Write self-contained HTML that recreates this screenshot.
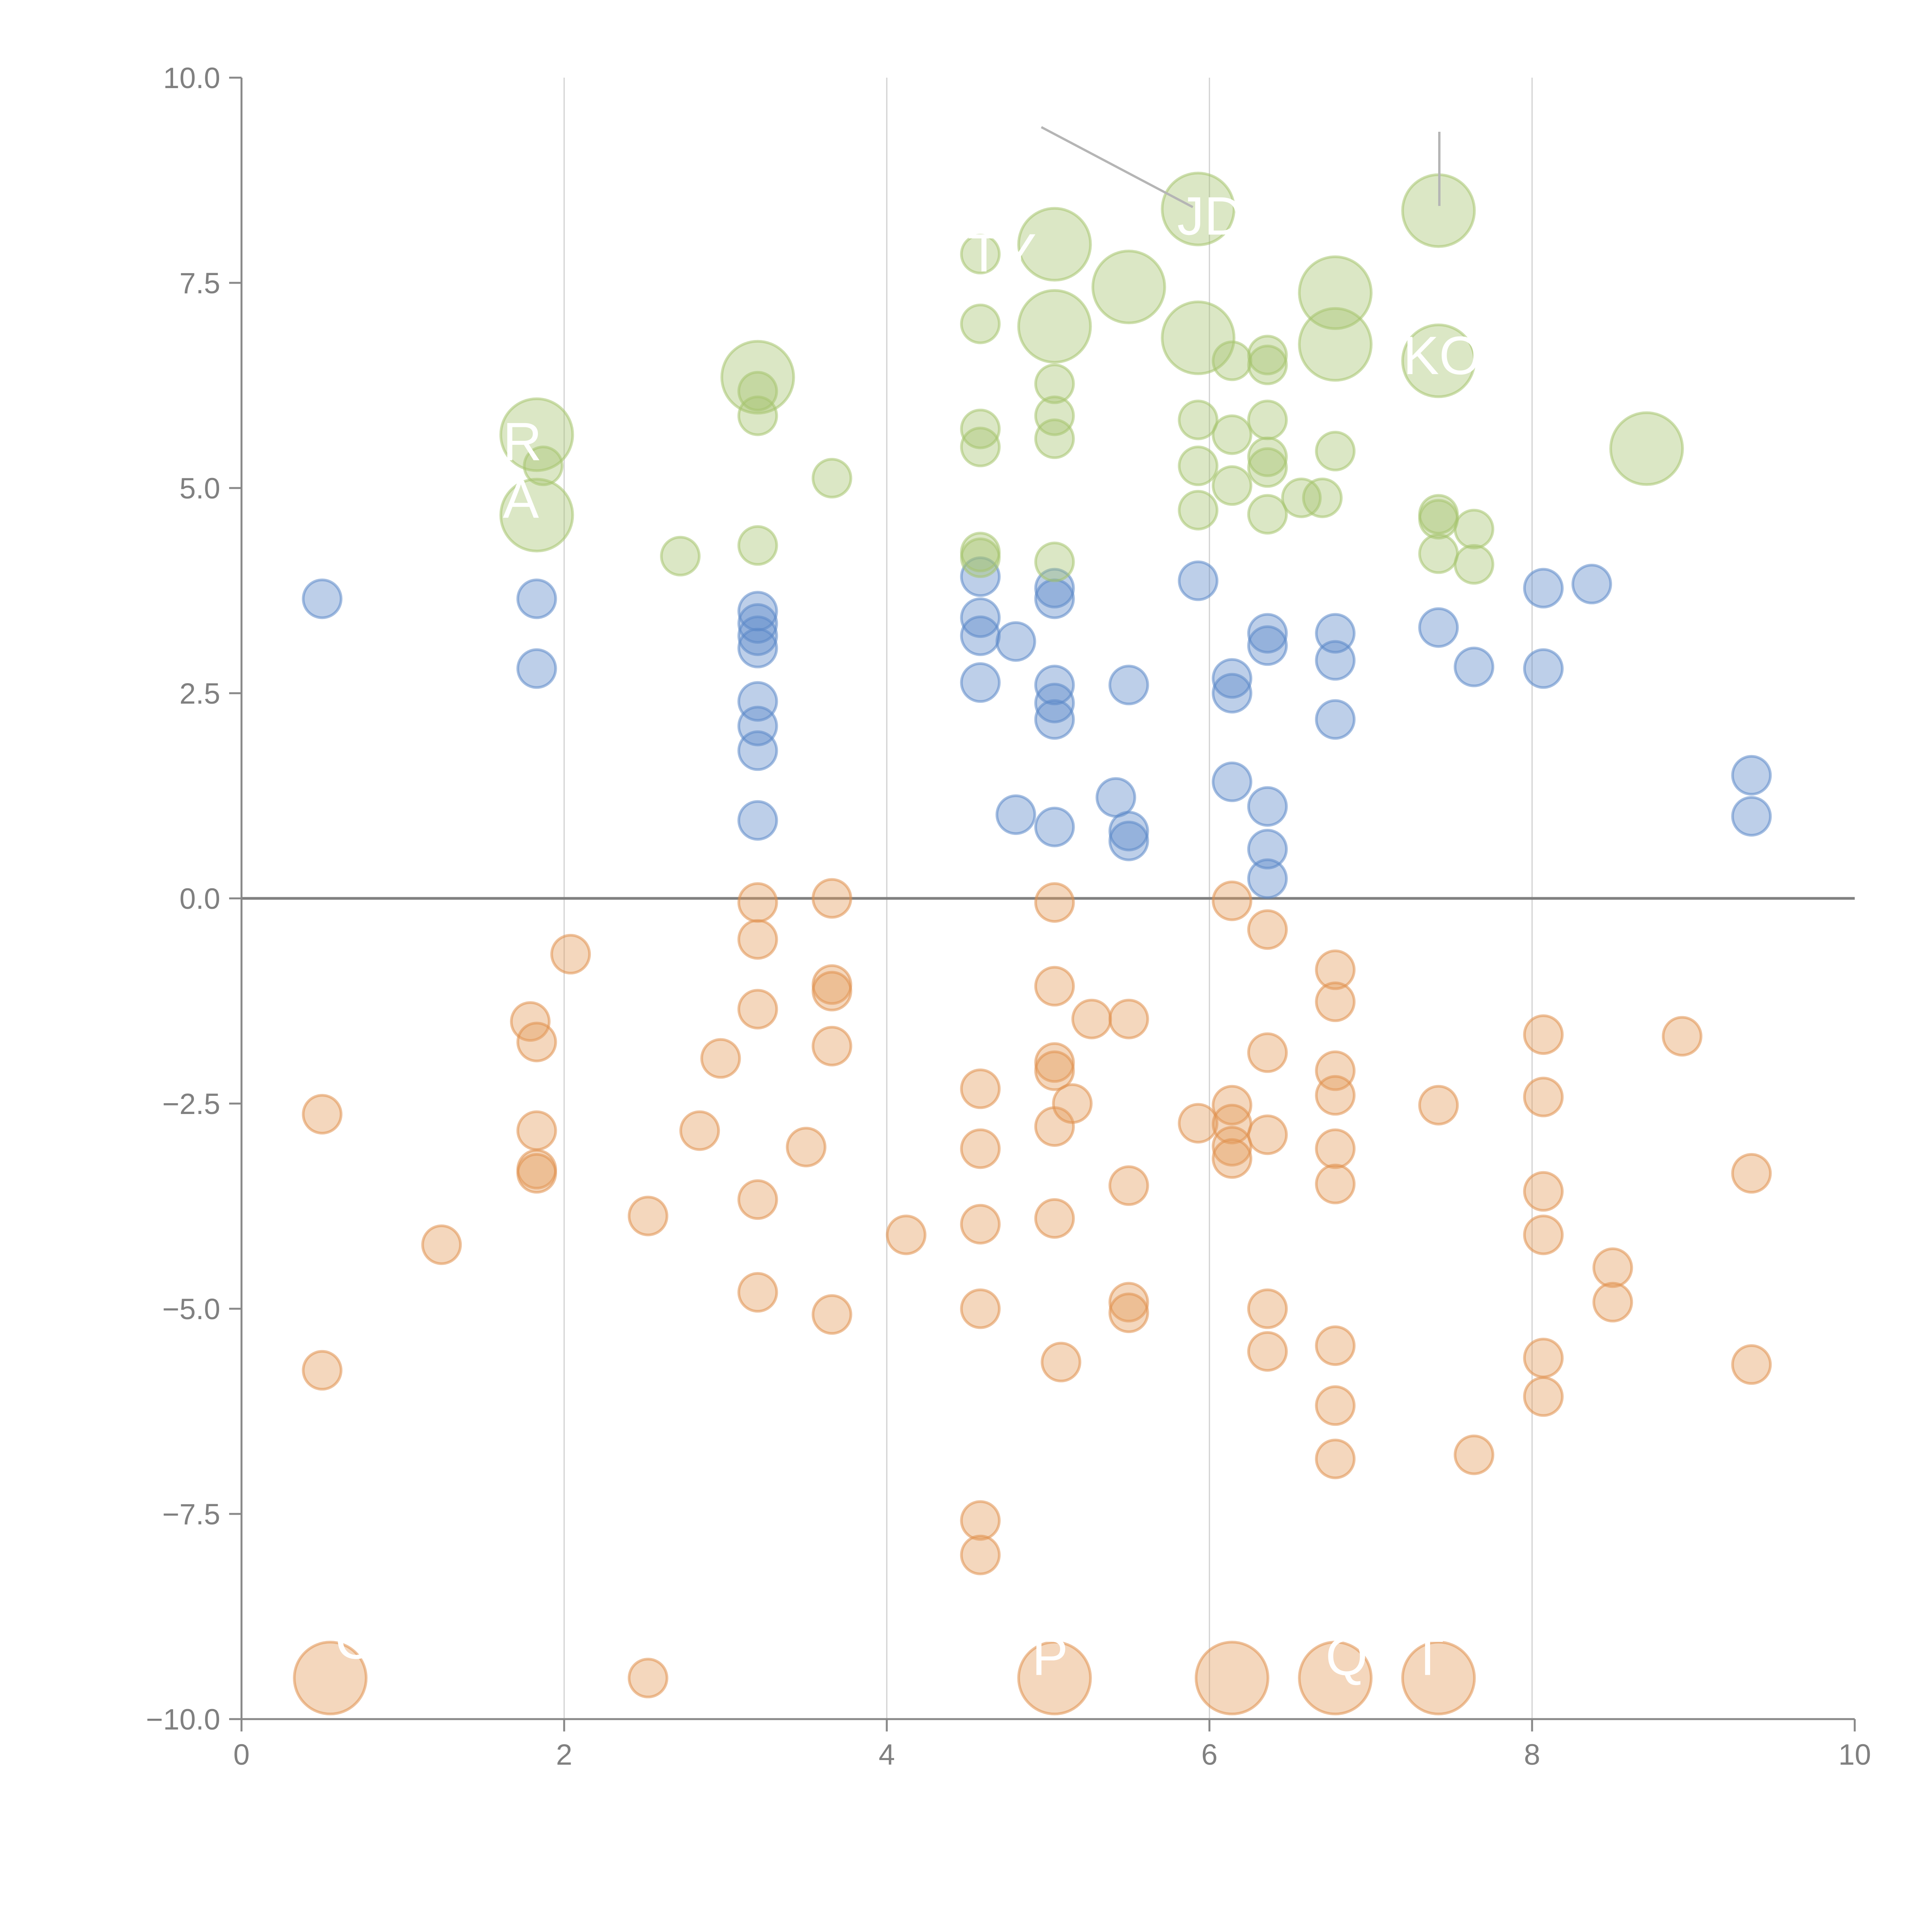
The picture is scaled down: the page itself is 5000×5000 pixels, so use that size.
<!DOCTYPE html>
<html><head><meta charset="utf-8"><style>
html,body{margin:0;padding:0;background:#fff;}
svg{display:block;}
text{font-family:"Liberation Sans",sans-serif;}
</style></head><body>
<svg id="chart" width="5000" height="5000" viewBox="0 0 5000 5000" xmlns="http://www.w3.org/2000/svg">
<g id="grid"></g>
<g id="axes"></g>
<g id="marks"></g>
<g id="labels"></g>
</svg>
<script>
const xTicks=[0,2,4,6,8,10];
const xTickLabels=["0","2","4","6","8","10"];
const yTicks=[-10,-7.5,-5,-2.5,0,2.5,5,7.5,10];
const yTickLabels=["\u221210.0","\u22127.5","\u22125.0","\u22122.5","0.0","2.5","5.0","7.5","10.0"];
const blueX=[0.5,1.83,1.83,3.2,3.2,3.2,3.2,3.2,3.2,3.2,3.2,4.58,4.58,4.58,4.58,4.8,4.8,5.04,5.04,5.04,5.04,5.04,5.04,5.5,5.42,5.5,5.5,5.93,6.14,6.14,6.14,6.36,6.36,6.36,6.36,6.36,6.78,6.78,6.78,7.42,7.64,8.07,8.07,8.37,9.36,9.36];
const blueY=[3.65,3.65,2.8,3.5,3.35,3.2,3.05,2.4,2.1,1.8,0.95,3.92,3.42,3.2,2.63,3.13,1.02,3.78,3.65,2.6,2.38,2.18,0.87,2.6,1.23,0.82,0.7,3.87,2.68,2.5,1.42,3.23,3.08,1.12,0.6,0.24,3.23,2.9,2.18,3.3,2.82,3.78,2.8,3.83,1.5,1.0];
const orangeX=[0.5,0.5,1.24,1.79,1.83,1.83,1.83,1.83,2.04,2.52,2.52,2.84,2.97,3.2,3.2,3.2,3.2,3.2,3.5,3.66,3.66,3.66,3.66,3.66,4.12,4.58,4.58,4.58,4.58,4.58,4.58,5.04,5.04,5.04,5.04,5.04,5.04,5.15,5.27,5.08,5.5,5.5,5.5,5.5,5.93,6.14,6.14,6.14,6.14,6.14,6.36,6.36,6.36,6.36,6.36,6.78,6.78,6.78,6.78,6.78,6.78,6.78,6.78,6.78,7.42,7.64,8.07,8.07,8.07,8.07,8.07,8.07,8.5,8.5,8.93,9.36,9.36];
const orangeY=[-2.63,-5.75,-4.22,-1.5,-1.75,-2.83,-3.3,-3.35,-0.68,-3.87,-9.5,-2.83,-1.95,-0.05,-0.5,-1.35,-3.67,-4.8,-3.03,0,-1.05,-1.13,-1.8,-5.07,-4.1,-2.32,-3.05,-3.97,-5.0,-7.58,-8.0,-0.05,-1.07,-2.0,-2.1,-2.78,-3.9,-2.5,-1.47,-5.65,-1.47,-3.5,-4.92,-5.05,-2.74,-0.03,-2.52,-2.75,-3.02,-3.17,-0.38,-1.88,-2.88,-5.0,-5.52,-0.87,-1.26,-2.1,-2.4,-3.05,-3.48,-5.45,-6.18,-6.83,-2.52,-6.78,-1.66,-2.42,-3.57,-4.1,-5.6,-6.07,-4.5,-4.92,-1.68,-3.35,-5.68];
const orangeBigX=[0.55,5.04,6.14,6.78,7.42];
const orangeBigY=[-9.5,-9.5,-9.5,-9.5,-9.5];
const greenX=[1.87,2.72,3.2,3.2,3.2,3.66,4.58,4.58,4.58,4.58,4.58,4.58,5.04,5.04,5.04,5.04,5.93,5.93,5.93,6.14,6.14,6.14,6.36,6.36,6.36,6.36,6.36,6.36,6.57,6.7,6.78,7.42,7.42,7.42,7.64,7.64];
const greenY=[5.27,4.17,6.18,5.88,4.3,5.12,7.85,7.0,5.72,5.5,4.22,4.15,6.27,5.88,5.6,4.1,5.83,5.27,4.73,6.55,5.65,5.03,6.62,6.5,5.83,5.38,5.25,4.68,4.88,4.88,5.45,4.68,4.62,4.2,4.5,4.07];
const greenBigX=[1.83,1.83,3.2,5.04,5.04,5.5,5.93,5.93,6.78,6.78,7.42,7.42,8.71];
const greenBigY=[5.65,4.67,6.35,7.97,6.97,7.45,8.4,6.83,7.38,6.75,8.38,6.55,5.48];

const NS="http://www.w3.org/2000/svg";
const X0=625,X1=4800,YT=201,YB=4449;
const sx=v=>X0+(v-0)/(10-0)*(X1-X0);
const sy=v=>YB-(v-(-10))/(20)*(YB-YT);
function mk(tag,attrs,parent){const e=document.createElementNS(NS,tag);for(const k in attrs)e.setAttribute(k,attrs[k]);parent.appendChild(e);return e;}
const grid=document.getElementById('grid'),axes=document.getElementById('axes'),marks=document.getElementById('marks'),labels=document.getElementById('labels');

[2,4,6,8].forEach(v=>{
  const l=mk('line',{x1:sx(v),x2:sx(v),y1:YT,y2:YB,stroke:'#d0d0d0','stroke-width':3},grid);
  
  
});
const zl=mk('line',{x1:X0,x2:X1,y1:sy(0),y2:sy(0),stroke:'#808080','stroke-width':7},grid);



const ya=mk('line',{x1:X0,x2:X0,y1:YT,y2:YB,stroke:'#888','stroke-width':5},axes);


const xa=mk('line',{x1:X0-3,x2:X1,y1:YB,y2:YB,stroke:'#888','stroke-width':5},axes);



yTicks.forEach((v,i)=>{
  const t=mk('line',{x1:X0-32,x2:X0,y1:sy(v),y2:sy(v),stroke:'#888','stroke-width':5},axes);
  
  
  const tx=mk('text',{x:X0-55,y:sy(v)+27,'text-anchor':'end','font-size':76,fill:'#808080'},axes);
  tx.textContent=yTickLabels[i];
  
  
});
xTicks.forEach((v,i)=>{
  const t=mk('line',{x1:sx(v),x2:sx(v),y1:YB,y2:YB+32,stroke:'#888','stroke-width':5},axes);
  
  
  const tx=mk('text',{x:sx(v),y:YB+118,'text-anchor':'middle','font-size':76,fill:'#808080'},axes);
  tx.textContent=xTickLabels[i];
  
  
});

function series(xs,ys,r,fill,stroke,name){
  xs.forEach((x,i)=>{
    const c=mk('circle',{cx:sx(x),cy:sy(ys[i]),r:r,fill:fill,'fill-opacity':0.4,stroke:stroke,'stroke-opacity':0.55,'stroke-width':7},marks);
    
    
  });
}
series(blueX,blueY,49,'#5b88c8','#5b88c8','bubble-blue');
series(orangeX,orangeY,49,'#e39a5a','#e0904c','bubble-orange');
series(orangeBigX,orangeBigY,93,'#e39a5a','#e0904c','bubble-orange-large');
series(greenX,greenY,49,'#a5c46e','#a5c46e','bubble-green');
series(greenBigX,greenBigY,93,'#a5c46e','#a5c46e','bubble-green-large');

const g1=mk('line',{x1:2695,y1:329,x2:3087,y2:536,stroke:'#b5b5b5','stroke-width':6},labels);


const g2=mk('line',{x1:3725,y1:341,x2:3725,y2:533,stroke:'#b5b5b5','stroke-width':6},labels);



const labTxt=["R","A","TY","JD","KOS","QI","T","P","C"];
const labX=[1.62,1.62,4.5,5.8,7.2,6.72,7.25,4.9,0.58];
const labY=[5.55,4.85,7.85,8.3,6.6,-9.25,-9.25,-9.25,-9.05];
labTxt.forEach((s,i)=>{
  const t=mk('text',{x:sx(labX[i]),y:sy(labY[i])+45,'font-size':140,fill:'#ffffff'},labels);
  t.textContent=s;
  
  
});
</script>
</body></html>
